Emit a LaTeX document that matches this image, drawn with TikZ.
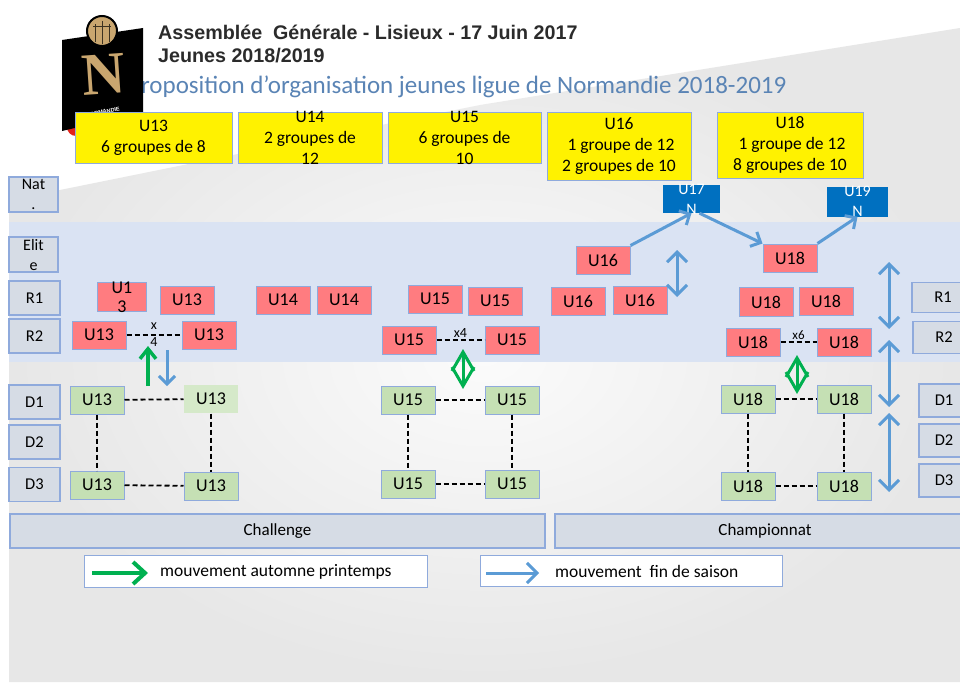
\documentclass[tikz,border=0pt]{standalone}
\usepackage{fontspec}
\setmainfont{Carlito}
\newfontfamily\headfont{Liberation Sans}
\newfontfamily\logofont{Liberation Serif}
\usetikzlibrary{arrows.meta}
\definecolor{bandblue}{HTML}{DAE3F3}
\definecolor{edgeblue}{HTML}{8FAADC}
\definecolor{levelgrey}{HTML}{D6DCE5}
\definecolor{boxred}{HTML}{FF7C80}
\definecolor{boxgreen}{HTML}{C5E0B4}
\definecolor{palegreen}{HTML}{D5E9C9}
\definecolor{nblue}{HTML}{0070C0}
\definecolor{arrowblue}{HTML}{5B9BD5}
\definecolor{arrowgreen}{HTML}{00B050}
\definecolor{titleblue}{HTML}{5A84B5}
\definecolor{titlegrey}{HTML}{2B2B2B}
\definecolor{logogold}{HTML}{C9A66F}
\definecolor{logored}{HTML}{E2231A}
\begin{document}
\begin{tikzpicture}[x=1pt,y=-1pt,
    redbox/.style={draw=edgeblue,fill=boxred,line width=1pt,minimum width=54pt,minimum height=28pt,inner sep=0pt,font=\fontsize{18}{20}\selectfont},
    greenbox/.style={redbox,fill=boxgreen},
    yellowbox/.style={draw=edgeblue,fill=yellow,line width=1pt,inner sep=0pt},
    levelbox/.style={draw=edgeblue,fill=levelgrey,line width=1.2pt,inner sep=0pt,minimum width=51pt,minimum height=34pt,font=\fontsize{16.5}{19}\selectfont},
    nbox/.style={fill=nblue,inner sep=0pt},
    boxtext/.style={align=center,inner sep=0pt},
    dashline/.style={line width=1.8pt,dash pattern=on 5pt off 3pt},
    season/.style={draw=arrowblue,line width=3pt,-{Straight Barb[length=8pt,width=16pt]}},
    seasonboth/.style={draw=arrowblue,line width=3pt,{Straight Barb[length=10pt,width=20pt]}-{Straight Barb[length=10pt,width=20pt]}},
    autumn/.style={draw=arrowgreen,line width=3.5pt,-{Straight Barb[length=10pt,width=16pt]}},
    autumnboth/.style={draw=arrowgreen,line width=3pt,{Straight Barb[length=19pt,width=22pt]}-{Straight Barb[length=19pt,width=22pt]}}
  ]
  %% Slide background
  \clip (0,0) rectangle (960,682);
  \fill[white] (0,0) rectangle (960,682);
  \shade[inner color=gray!3,outer color=gray!19] (9,195) -- (60,190) -- (480,105) -- (960,28) -- (960,682) -- (9,682) -- cycle;
  \fill[bandblue] (9,222) rectangle (960,362);
  %% Titles
  \node[anchor=base west,inner sep=0pt,text=titlegrey,font=\headfont\bfseries\fontsize{19.7}{22}\selectfont] (title) at (158,40) {Assemblée\ \ Générale - Lisieux - 17 Juin 2017};
  \node[anchor=base west,inner sep=0pt,text=titlegrey,font=\headfont\bfseries\fontsize{19.7}{22}\selectfont] (season) at (158,63) {Jeunes 2018/2019};
  \node[anchor=base west,inner sep=0pt,text=titleblue,font=\fontsize{25}{30}\selectfont] (subtitle) at (128,94) {Proposition d’organisation jeunes ligue de Normandie 2018-2019};
  %% Logo
  \fill[logored] (76,127) circle (9);
  \fill[black] (62,40) -- (143,28) -- (143,112) -- (62,131) -- cycle;
  \fill[logogold,draw=black,line width=2pt] (102,31) circle (15);
  \draw[black!70!logogold,line width=1pt] (95,24) -- (95,42) (102,21) -- (102,44) (109,24) -- (109,42) (93,27) -- (111,27);
  \node[inner sep=0pt,text=logogold,rotate=4,font=\logofont\bfseries\fontsize{60}{60}\selectfont] (logoN) at (104,74) {N};
  \node[inner sep=0pt,text=white,rotate=12,font=\headfont\bfseries\fontsize{5.5}{6}\selectfont] (logotext) at (103,112) {NORMANDIE};
  %% Yellow headers
  \node[yellowbox,minimum width=157pt,minimum height=50pt] (y13) at (153.5,138) {};
  \node[yellowbox,minimum width=144pt,minimum height=50pt] (y14) at (310,138) {};
  \node[yellowbox,minimum width=153pt,minimum height=50pt] (y15) at (464.5,138) {};
  \node[yellowbox,minimum width=144pt,minimum height=67pt] (y16) at (619,146.5) {};
  \node[yellowbox,minimum width=146pt,minimum height=65pt] (y18) at (790,145.5) {};
  \begin{scope}[font=\fontsize{17.5}{21}\selectfont]
    \node[boxtext] at (y13) {U13\\6 groupes de 8};
    \node[boxtext] at (y14) {U14\\2 groupes de\\12};
    \node[boxtext] at (y15) {U15\\6 groupes de\\10};
    \node[boxtext] at (y16) {U16\\\ 1 groupe de 12\\2 groupes de 10};
    \node[boxtext] at (y18) {U18\\\ 1 groupe de 12\\8 groupes de 10};
  \end{scope}
  %% Level labels
  \node[levelbox,minimum width=49pt,minimum height=35pt] (nat) at (33.5,194.5) {};
  \node[boxtext,font=\fontsize{16}{20}\selectfont] at (nat) {Nat\\.};
  \node[levelbox,minimum width=49pt,minimum height=35pt] (elite) at (33.5,254.5) {};
  \node[boxtext,font=\fontsize{16}{20}\selectfont] at (elite) {Elit\\e};
  \node[levelbox] (r1l) at (34.5,298) {R1};
  \node[levelbox] (r2l) at (34.5,336) {R2};
  \node[levelbox] (d1l) at (34.5,402) {D1};
  \node[levelbox] (d2l) at (34.5,442) {D2};
  \node[levelbox] (d3l) at (34.5,484.5) {D3};
  \node[levelbox,minimum width=62pt,minimum height=30pt] (r1r) at (943,297.5) {R1};
  \node[levelbox,minimum width=62pt,minimum height=32pt] (r2r) at (944,337.5) {R2};
  \node[levelbox,minimum width=50pt,minimum height=33pt] (d1r) at (944,400.5) {D1};
  \node[levelbox,minimum width=50pt,minimum height=33pt] (d2r) at (944,440.5) {D2};
  \node[levelbox,minimum width=50pt,minimum height=33pt] (d3r) at (944,480.5) {D3};
  %% National teams
  \node[nbox,minimum width=57pt,minimum height=28pt] (u17) at (691.5,199) {};
  \node[boxtext,text=white,font=\fontsize{16}{20}\selectfont] at (u17) {U17\\N};
  \node[nbox,minimum width=61pt,minimum height=30pt] (u19) at (857.5,201.5) {};
  \node[boxtext,text=white,font=\fontsize{16}{20}\selectfont] at (u19) {U19\\N};
  %% Regional teams
  \node[redbox] (r16e) at (603,260) {U16};
  \node[redbox] (r18e) at (790,258) {U18};
  \node[redbox,minimum width=49pt,minimum height=29pt] (r13a) at (122,297) {};
  \node[boxtext,font=\fontsize{18}{19}\selectfont] at (r13a) {U1\\3};
  \node[redbox] (r13b) at (187,300) {U13};
  \node[redbox] (r14a) at (283,300) {U14};
  \node[redbox] (r14b) at (344,300) {U14};
  \node[redbox] (r15a) at (435,299) {U15};
  \node[redbox] (r15b) at (495,301) {U15};
  \node[redbox] (r16a) at (578,301) {U16};
  \node[redbox] (r16b) at (640,300) {U16};
  \node[redbox,minimum height=29pt] (r18a) at (766,302) {U18};
  \node[redbox] (r18b) at (826,301) {U18};
  \node[redbox] (r13c) at (99,335) {U13};
  \node[redbox] (r13d) at (209,335) {U13};
  \node[redbox] (r15c) at (409,340) {U15};
  \node[redbox] (r15d) at (512,340) {U15};
  \node[redbox] (r18c) at (753,342) {U18};
  \node[redbox] (r18d) at (844,342) {U18};
  %% District teams
  \node[greenbox] (g13a) at (97,400) {U13};
  \node[greenbox,fill=palegreen,draw=none] (g13b) at (211,399) {U13};
  \node[greenbox] (g13c) at (97,485) {U13};
  \node[greenbox] (g13d) at (211,486) {U13};
  \node[greenbox] (g15a) at (408,400) {U15};
  \node[greenbox] (g15b) at (512,400) {U15};
  \node[greenbox] (g15c) at (408,484) {U15};
  \node[greenbox] (g15d) at (512,484) {U15};
  \node[greenbox] (g18a) at (748,399) {U18};
  \node[greenbox] (g18b) at (844,399) {U18};
  \node[greenbox] (g18c) at (748,486) {U18};
  \node[greenbox] (g18d) at (844,486) {U18};
  %% Dashed links
  \draw[dashline] (r13c) -- (r13d) node[midway,boxtext,font=\fontsize{14}{17}\selectfont] {x\\4};
  \draw[dashline] (r15c) -- (r15d) node[midway,anchor=south,inner sep=2pt,font=\fontsize{14}{16}\selectfont] {x4};
  \draw[dashline] (r18c) -- (r18d) node[midway,anchor=south,inner sep=2pt,font=\fontsize{13}{15}\selectfont] {x6};
  \draw[dashline] (g13a) -- (g13b);
  \draw[dashline] (g13a) -- (g13c);
  \draw[dashline] (g13b) -- (g13d);
  \draw[dashline] (g13c) -- (g13d);
  \draw[dashline] (g15a) -- (g15b);
  \draw[dashline] (g15a) -- (g15c);
  \draw[dashline] (g15b) -- (g15d);
  \draw[dashline] (g15c) -- (g15d);
  \draw[dashline] (g18a) -- (g18b);
  \draw[dashline] (g18a) -- (g18c);
  \draw[dashline] (g18b) -- (g18d);
  \draw[dashline] (g18c) -- (g18d);
  %% End of season moves
  \draw[season] (r16e.north east) -- (u17.south);
  \draw[season] ([xshift=8pt]u17.south) -- (r18e.north west);
  \draw[season] (r18e.north east) -- (u19.south);
  \coordinate (m16top) at (677,250);
  \coordinate (m16bot) at (677,297);
  \draw[seasonboth] (m16top) -- (m16bot);
  \coordinate (mr1) at (889,262);
  \coordinate (mr2) at (889,329);
  \coordinate (mr3) at (889,340);
  \coordinate (mr4) at (889,407);
  \coordinate (mr5) at (889,413);
  \coordinate (mr6) at (889,492);
  \draw[seasonboth] (mr1) -- (mr2);
  \draw[seasonboth] (mr3) -- (mr4);
  \draw[seasonboth] (mr5) -- (mr6);
  \coordinate (m13top) at (167,350);
  \coordinate (m13bot) at (167,386);
  \draw[season] (m13top) -- (m13bot);
  %% Autumn / spring moves
  \coordinate (a13bot) at (148,386);
  \coordinate (a13top) at (148,346);
  \draw[autumn] (a13bot) -- (a13top);
  \coordinate (a15top) at (463,349);
  \coordinate (a15bot) at (463,389);
  \draw[autumnboth] (a15top) -- (a15bot);
  \coordinate (a18top) at (797,355);
  \coordinate (a18bot) at (797,394);
  \draw[autumnboth] (a18top) -- (a18bot);
  %% Competitions
  \node[levelbox,minimum width=535pt,minimum height=34pt,font=\fontsize{17}{19}\selectfont] (challenge) at (277.5,531) {Challenge};
  \node[levelbox,minimum width=420pt,minimum height=34pt,font=\fontsize{17}{19}\selectfont] (championnat) at (765,531) {Championnat};
  %% Legend
  \node[draw=edgeblue,fill=white,line width=1pt,minimum width=343pt,minimum height=32pt,inner sep=0pt] (leg1) at (255.5,571.5) {};
  \coordinate (l1s) at (92,573);
  \coordinate (l1e) at (148,573);
  \draw[autumn,line width=4pt,-{Straight Barb[length=12pt,width=22pt]}] (l1s) -- (l1e);
  \node[anchor=west,inner sep=0pt,font=\fontsize{17.5}{19}\selectfont] (leg1text) at (160,572) {mouvement automne printemps};
  \node[draw=edgeblue,fill=white,line width=1pt,minimum width=302pt,minimum height=31pt,inner sep=0pt] (leg2) at (631,570.5) {};
  \coordinate (l2s) at (486,573);
  \coordinate (l2e) at (539,573);
  \draw[season,-{Straight Barb[length=10pt,width=20pt]}] (l2s) -- (l2e);
  \node[anchor=west,inner sep=0pt,font=\fontsize{17.5}{19}\selectfont] (leg2text) at (555,571) {mouvement\ \ fin de saison};
\end{tikzpicture}
\end{document}
